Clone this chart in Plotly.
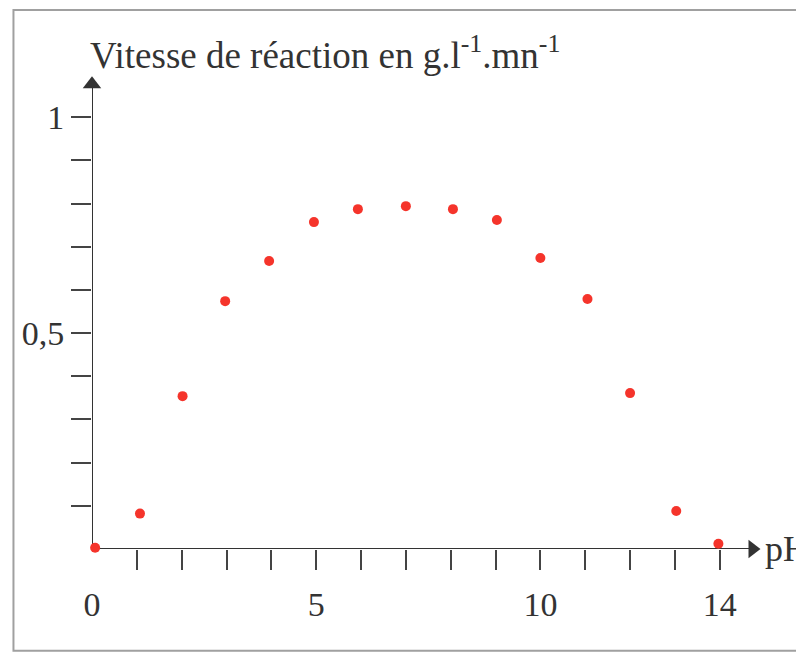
import plotly.graph_objects as go

ph = [0.07, 1.07, 2.02, 2.97, 3.95, 4.95, 5.93, 7.0, 8.05, 9.03, 10.0, 11.05, 12.0, 13.03, 13.97]
vitesse = [0.003, 0.082, 0.354, 0.574, 0.667, 0.757, 0.787, 0.794, 0.787, 0.762, 0.674, 0.579, 0.361, 0.088, 0.012]

x_minor_ticks = list(range(1, 15))
x_label_vals = [0, 5, 10, 14]
x_label_text = ["0", "5", "10", "14"]
y_minor_ticks = [0.1, 0.2, 0.3, 0.4, 0.6, 0.7, 0.8, 0.9]
y_label_vals = [0.5, 1.0]
y_label_text = ["0,5", "1"]

x_axis_end = 14.73
y_axis_end = 1.076

title_text = "Vitesse de réaction en g.l<sup>-1</sup>.mn<sup>-1</sup>"
x_title = "pH"

FONT = "Liberation Serif, Times New Roman, serif"
AX = "#333333"
TICK = "#444444"

fig = go.Figure()
# axis lines with arrowheads
fig.add_trace(go.Scatter(x=[0, x_axis_end], y=[0, 0], mode="lines",
                         line=dict(color=AX, width=2), cliponaxis=False,
                         showlegend=False, hoverinfo="skip"))
fig.add_trace(go.Scatter(x=[0, 0], y=[0, y_axis_end], mode="lines",
                         line=dict(color=AX, width=2), cliponaxis=False,
                         showlegend=False, hoverinfo="skip"))
fig.add_trace(go.Scatter(x=[x_axis_end], y=[0], mode="markers",
                         marker=dict(symbol="triangle-right", size=16, color=AX),
                         cliponaxis=False, showlegend=False, hoverinfo="skip"))
fig.add_trace(go.Scatter(x=[0], y=[y_axis_end], mode="markers",
                         marker=dict(symbol="triangle-up", size=16, color=AX),
                         cliponaxis=False, showlegend=False, hoverinfo="skip"))

fig.add_trace(go.Scatter(
    x=ph, y=vitesse, mode="markers",
    marker=dict(color="#f5342b", size=10, line=dict(width=0)),
    cliponaxis=False, showlegend=False, hoverinfo="skip"))

fig.update_layout(
    width=796, height=648,
    margin=dict(l=84, r=17, t=66, b=107),
    paper_bgcolor="white", plot_bgcolor="white",
    font=dict(family=FONT, size=34, color=AX),
    xaxis=dict(range=[0, 15.5], showgrid=False, zeroline=False, showline=False,
               tickmode="array", tickvals=x_label_vals, ticktext=x_label_text,
               ticks="", ticklabelstandoff=32,
               tickfont=dict(family=FONT, size=34, color=AX),
               minor=dict(tickmode="array", tickvals=x_minor_ticks, ticks="outside",
                          ticklen=20, tickwidth=1.5, tickcolor=TICK, showgrid=False)),
    yaxis=dict(range=[0, 1.1], showgrid=False, zeroline=False, showline=False,
               tickmode="array", tickvals=y_label_vals, ticktext=y_label_text,
               ticks="outside", ticklen=20, tickwidth=1.5, tickcolor=TICK,
               ticklabelstandoff=0,
               tickfont=dict(family=FONT, size=34, color=AX),
               minor=dict(tickmode="array", tickvals=y_minor_ticks, ticks="outside",
                          ticklen=20, tickwidth=1.5, tickcolor=TICK, showgrid=False)),
    shapes=[dict(type="rect", xref="paper", yref="paper",
                 x0=-0.113, x1=1.2, y0=-0.214, y1=1.135,
                 line=dict(color="#a0a0a0", width=2))],
)

fig.add_annotation(x=14.9, y=0, xref="x", yref="y", text=x_title, showarrow=False,
                   xanchor="left", yanchor="middle", xshift=3,
                   font=dict(family=FONT, size=36, color=AX))
fig.add_annotation(x=0, y=1, xref="paper", yref="paper", text=title_text, showarrow=False,
                   xanchor="left", yanchor="middle", xshift=-4, yshift=22,
                   font=dict(family=FONT, size=37, color=AX))

fig.write_html("out.html")
